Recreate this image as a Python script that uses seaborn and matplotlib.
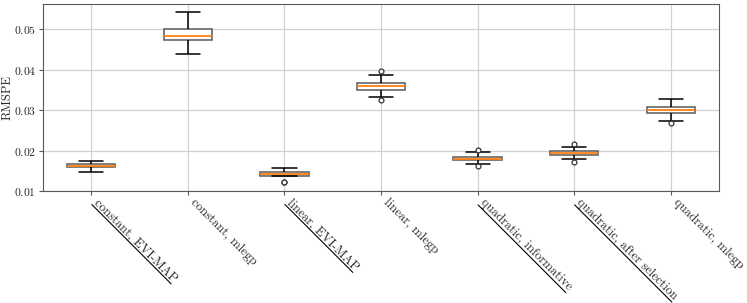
import numpy as np
import pandas as pd
import matplotlib.pyplot as plt
import seaborn as sns
from matplotlib.lines import Line2D

# -----------------------------
# Data (read off the reference boxes)
# -----------------------------
models = ["constant, EVI-MAP", "constant, mlegp", "linear, EVI-MAP", "linear, mlegp",
          "quadratic, informative", "quadratic, after selection", "quadratic, mlegp"]
underlined = ["constant, EVI-MAP", "linear, EVI-MAP",
              "quadratic, informative", "quadratic, after selection"]

whisker_low = [0.01472, 0.04402, 0.01289, 0.03320, 0.01660, 0.01792, 0.02727]
q1 = [0.01585, 0.04745, 0.01370, 0.03510, 0.01760, 0.01891, 0.02930]
median = [0.01626, 0.04835, 0.01408, 0.03598, 0.01799, 0.01940, 0.02999]
q3 = [0.01665, 0.05020, 0.01460, 0.03660, 0.01839, 0.01977, 0.03080]
whisker_high = [0.01742, 0.05430, 0.01576, 0.03870, 0.01952, 0.02096, 0.03271]
fliers_low = [[], [], [0.01225, 0.01210], [0.03256], [0.01618], [0.01722], [0.02682]]
fliers_high = [[], [], [], [0.03976], [0.02009], [0.02150], []]


def sample(i):
    # 9 sorted values whose 25/50/75 percentiles are q1/median/q3
    lo = fliers_low[i] + [whisker_low[i]] * (2 - len(fliers_low[i]))
    hi = [whisker_high[i]] * (2 - len(fliers_high[i])) + fliers_high[i]
    return lo + [q1[i], median[i], median[i], q3[i], q3[i]] + hi


rows = []
for i, m in enumerate(models):
    for v in sample(i):
        rows.append({"model": m, "rmspe": v})
df = pd.DataFrame(rows)

# -----------------------------
# Style
# -----------------------------
sns.set_style("whitegrid", {"axes.edgecolor": ".35", "grid.color": ".82",
                            "xtick.bottom": True, "ytick.left": True})
plt.rcParams["font.family"] = ["cmr10", "DejaVu Serif"]
plt.rcParams["axes.formatter.use_mathtext"] = True

fig, ax = plt.subplots(figsize=(7.47, 3.03), dpi=100)
fig.subplots_adjust(left=0.0576, right=0.9625, top=0.987, bottom=0.370)

sns.boxplot(
    data=df, x="model", y="rmspe", order=models, ax=ax,
    color="white", linecolor="black", linewidth=1.1, width=0.5, whis=1.5,
    boxprops={"edgecolor": "0.35"},
    medianprops={"color": "#ff7f0e", "linewidth": 1.3},
    flierprops={"marker": "o", "markersize": 3.5, "markerfacecolor": "white",
                "markeredgecolor": "0.2", "markeredgewidth": 0.9},
)

ax.set_ylim(0.01, 0.0563)
ax.set_yticks([0.01, 0.02, 0.03, 0.04, 0.05])
ax.set_ylabel("RMSPE", fontsize=9)
ax.yaxis.set_label_coords(-0.043, 0.5)
ax.set_xlabel("")
ax.tick_params(axis="x", labelsize=9.2, length=3, color=".35", pad=1)
ax.tick_params(axis="y", labelsize=8.4, length=3, color=".35", pad=2)
ax.set_xticks(range(len(models)))
ax.set_xticklabels(models, rotation=-45, ha="left")
ax.grid(True, axis="both", color=".82", linewidth=0.9)

# -----------------------------
# Underline the selected tick labels
# -----------------------------
fig.canvas.draw()
renderer = fig.canvas.get_renderer()
inv = fig.transFigure.inverted()
for lab in ax.get_xticklabels():
    if lab.get_text() not in underlined:
        continue
    bb = lab.get_window_extent(renderer)
    lab.set_rotation(0)
    h = lab.get_window_extent(renderer).height
    lab.set_rotation(-45)
    d = h * np.sqrt(0.5)
    p0 = inv.transform((bb.x0 + 0.5, bb.y1 - d + 0.5))
    p1 = inv.transform((bb.x1 - d + 0.5, bb.y0 + 0.5))
    fig.add_artist(Line2D([p0[0], p1[0]], [p0[1], p1[1]],
                          transform=fig.transFigure, color="black", linewidth=0.8))

plt.savefig("out.png", dpi=100)
